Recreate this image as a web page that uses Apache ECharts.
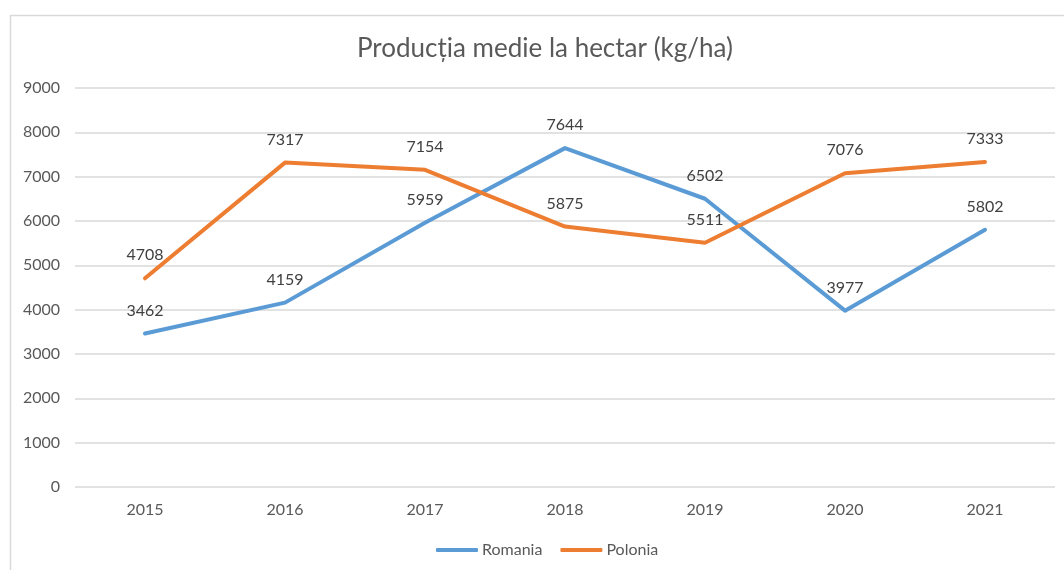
<!DOCTYPE html>
<html>
<head>
<meta charset="utf-8">
<script src="https://cdn.jsdelivr.net/npm/echarts@6/dist/echarts.min.js"></script>
<style>
html,body{margin:0;padding:0;background:#fff;}
#chart{width:1064px;height:570px;}
</style>
</head>
<body>
<div id="chart"></div>
<script>
var categories = ['2015','2016','2017','2018','2019','2020','2021'];
var romania = [3462, 4159, 5959, 7644, 6502, 3977, 5802];
var polonia = [4708, 7317, 7154, 5875, 5511, 7076, 7333];
var titleText = 'Producția medie la hectar (kg/ha)';
var seriesNames = ['Romania', 'Polonia'];

var FONT = 'Lato, "Noto Sans", sans-serif';
var chart = echarts.init(document.getElementById('chart'), null, {renderer:'canvas'});
function mkSeries(name, data, color){
  return {
    name: name, type: 'line', data: data,
    symbol: 'circle', symbolSize: 0, showSymbol: true, smooth: false,
    lineStyle: {color: color, width: 4, cap: 'round', join: 'round'},
    itemStyle: {color: color},
    label: {show: true, position: 'top', distance: 15, color: '#404040', fontSize: 16, fontFamily: FONT},
    labelLayout: {hideOverlap: false},
    emphasis: {disabled: true},
    animation: false
  };
}
chart.setOption({
  animation: false,
  backgroundColor: '#ffffff',
  graphic: [{
    type: 'rect', shape: {x: 10.5, y: 15.5, width: 1100, height: 600},
    style: {fill: 'none', stroke: '#d9d9d9', lineWidth: 1.5}, silent: true, z: -1
  }],
  title: {
    text: titleText, left: 352, top: 31,
    textStyle: {color: '#595959', fontSize: 26, fontWeight: 'normal', fontFamily: FONT}
  },
  legend: {
    data: seriesNames, bottom: 7, left: 431,
    itemWidth: 42, itemHeight: 4, itemGap: 18,
    icon: 'roundRect',
    textStyle: {color: '#595959', fontSize: 16, fontFamily: FONT, padding: [0,0,0,-1]}
  },
  grid: {left: 75, right: 9, top: 88, bottom: 83, containLabel: false},
  xAxis: {
    type: 'category', data: categories, boundaryGap: true,
    axisLine: {show: false}, axisTick: {show: false},
    axisLabel: {color: '#595959', fontSize: 16, fontFamily: FONT, margin: 15}
  },
  yAxis: {
    type: 'value', min: 0, max: 9000, interval: 1000,
    axisLine: {show: false}, axisTick: {show: false},
    splitLine: {lineStyle: {color: '#d9d9d9', width: 1.5}},
    axisLabel: {color: '#595959', fontSize: 16, fontFamily: FONT, margin: 15, formatter: function(v){return String(v);}}
  },
  series: [mkSeries(seriesNames[0], romania, '#5B9BD5'), mkSeries(seriesNames[1], polonia, '#ED7D31')]
});
</script>
</body>
</html>
